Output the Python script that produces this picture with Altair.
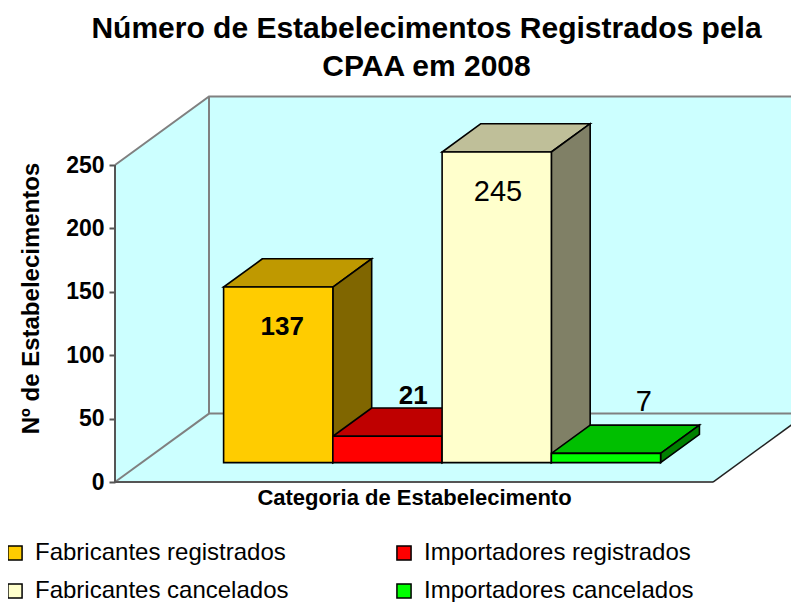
import altair as alt
import pandas as pd

categories = ["Fabricantes registrados", "Importadores registrados",
              "Fabricantes cancelados", "Importadores cancelados"]
legend_order = ["Fabricantes registrados", "Fabricantes cancelados",
                "Importadores registrados", "Importadores cancelados"]
legend_colors = ["#FFCC00", "#FFFFCC", "#FF0000", "#00FF00"]
labels = ["137", "21", "245", "7"]
bar_heights = [138.5, 20.8, 245, 7.3]
top_colors = ["#BF9900", "#BF0000", "#BFBF99", "#00BF00"]
side_colors = ["#806600", "#800000", "#808066", "#008000"]
label_x = [0.78, 1.98, 2.755, 4.09]
label_y = [122, 68, 228.5, 63]
label_weight = ["bold", "bold", "normal", "normal"]
label_size = [26, 26, 29, 29]
y_ticks = [0, 50, 100, 150, 200, 250]

FONT = "Liberation Sans"
# depth of the 3D box, in scale units
DX, DY = 0.8604, 54.0
Z0, Z1 = 0.283, 0.696
WALL_L, WALL_R = -0.7506, 4.723
TOP = 250
CYAN = "#CCFFFF"

xs = alt.Scale(domain=[-1.73, 5.437], range=[0, 783], nice=False, zero=False)
ys = alt.Scale(domain=[-94.6, 307.6], range=[510, 0], nice=False, zero=False)
x_axis = alt.Axis(
    title="Categoria de Estabelecimento", labels=False, ticks=False, domain=False,
    grid=False, titleFont=FONT, titleFontSize=22, titleFontWeight="bold",
    titleColor="black", titleX=406, titleY=-105, titleBaseline="middle")
y_axis = alt.Axis(
    title="Nº de Estabelecimentos", values=y_ticks, domain=False, grid=False,
    offset=-107, tickSize=6, tickColor="#555555", tickWidth=2, labelPadding=5,
    labelFont=FONT, labelFontSize=23, labelFontWeight="bold", labelColor="black",
    titleFont=FONT, titleFontSize=24, titleFontWeight="bold", titleColor="black",
    titleX=-84, titleY=206, titleBaseline="middle")
X = alt.X("x:Q", scale=xs, axis=x_axis)
Y = alt.Y("y:Q", scale=ys, axis=y_axis)


def vface(points, fill, stroke=None, sw=1.6):
    """Quadrilateral with two vertical sides: (x, y_low, y_high)"""
    df = pd.DataFrame(points, columns=["x", "y", "y2"])
    kw = dict(fill=fill, clip=True, interpolate="linear")
    if stroke:
        kw.update(stroke=stroke, strokeWidth=sw)
    return alt.Chart(df).mark_area(**kw).encode(x=X, y=Y, y2="y2:Q")


def hface(points, fill, stroke=None, sw=1.6):
    """Quadrilateral with two horizontal sides: (y, x_low, x_high)"""
    df = pd.DataFrame(points, columns=["y", "x", "x2"])
    kw = dict(fill=fill, clip=True, orient="horizontal", interpolate="linear")
    if stroke:
        kw.update(stroke=stroke, strokeWidth=sw)
    return alt.Chart(df).mark_area(**kw).encode(y=Y, x=X, x2="x2:Q")


def line(points, color, sw=2.0):
    df = pd.DataFrame(points, columns=["x", "y"]).reset_index()
    return alt.Chart(df).mark_line(color=color, strokeWidth=sw, clip=True).encode(
        x=X, y=Y, order="index:Q")


layers = [
    vface([(WALL_L, 0, TOP), (WALL_L + DX, DY, TOP + DY)], CYAN),
    vface([(WALL_L + DX, DY, TOP + DY), (WALL_R + DX, DY, TOP + DY)], CYAN),
    hface([(0, WALL_L, WALL_R), (DY, WALL_L + DX, WALL_R + DX)], CYAN),
    line([(WALL_L, TOP), (WALL_L + DX, TOP + DY), (WALL_R + DX, TOP + DY)], "#808080"),
    line([(WALL_L + DX, TOP + DY), (WALL_L + DX, DY), (WALL_R + DX, DY)], "#808080"),
    line([(WALL_L, 0), (WALL_L + DX, DY)], "#808080"),
    line([(WALL_L, TOP), (WALL_L, 0), (WALL_R, 0)], "#555555"),
    line([(WALL_R, 0), (WALL_R + DX, DY)], "#222222", 1.5),
]

fx = DX * Z0
fy = DY * Z0
bx = DX * Z1
by = DY * Z1
for i, h in enumerate(bar_heights):
    layers.append(hface([(fy + h, i + fx, i + 1 + fx), (by + h, i + bx, i + 1 + bx)],
                        top_colors[i], "black"))
    layers.append(vface([(i + 1 + fx, fy, fy + h), (i + 1 + bx, by, by + h)],
                        side_colors[i], "black"))

front = pd.DataFrame({
    "cat": categories,
    "x": [i + fx for i in range(4)],
    "x2": [i + 1 + fx for i in range(4)],
    "y": [fy] * 4,
    "y2": [fy + h for h in bar_heights],
})
layers.append(alt.Chart(front).mark_bar(stroke="black", strokeWidth=1.6).encode(
    x=X, x2="x2:Q", y=Y, y2="y2:Q",
    fill=alt.Fill("cat:N", scale=alt.Scale(domain=legend_order, range=legend_colors),
                  legend=alt.Legend(
                      title=None, orient="none", legendX=-5, legendY=449, columns=2,
                      symbolType="square", symbolSize=200, symbolStrokeColor="black",
                      symbolStrokeWidth=1.5, labelFont=FONT, labelFontSize=24,
                      labelColor="black", labelLimit=400, rowPadding=14, labelOffset=8,
                      columnPadding=103, symbolOpacity=1)),
))

lab = pd.DataFrame({"x": label_x, "y": label_y, "t": labels, "w": label_weight, "s": label_size})
for w, s in (("bold", 26), ("normal", 29)):
    layers.append(alt.Chart(lab[lab.w == w]).mark_text(
        font=FONT, fontSize=s, fontWeight=w, color="black", baseline="middle"
    ).encode(x=X, y=Y, text="t:N"))

chart = alt.layer(*layers).properties(
    width=783, height=510,
    padding={"left": 0, "top": 84, "right": 0, "bottom": 0},
    autosize=alt.AutoSizeParams(type="none"),
    title=alt.Title(["Número de Estabelecimentos Registrados pela", "CPAA em 2008"],
                    font=FONT, fontSize=30, fontWeight="bold", color="black",
                    anchor="middle", lineHeight=38, offset=10, dx=27),
).configure_view(stroke=None)

chart.save("out.html", embed_options={"renderer": "svg", "actions": False})
